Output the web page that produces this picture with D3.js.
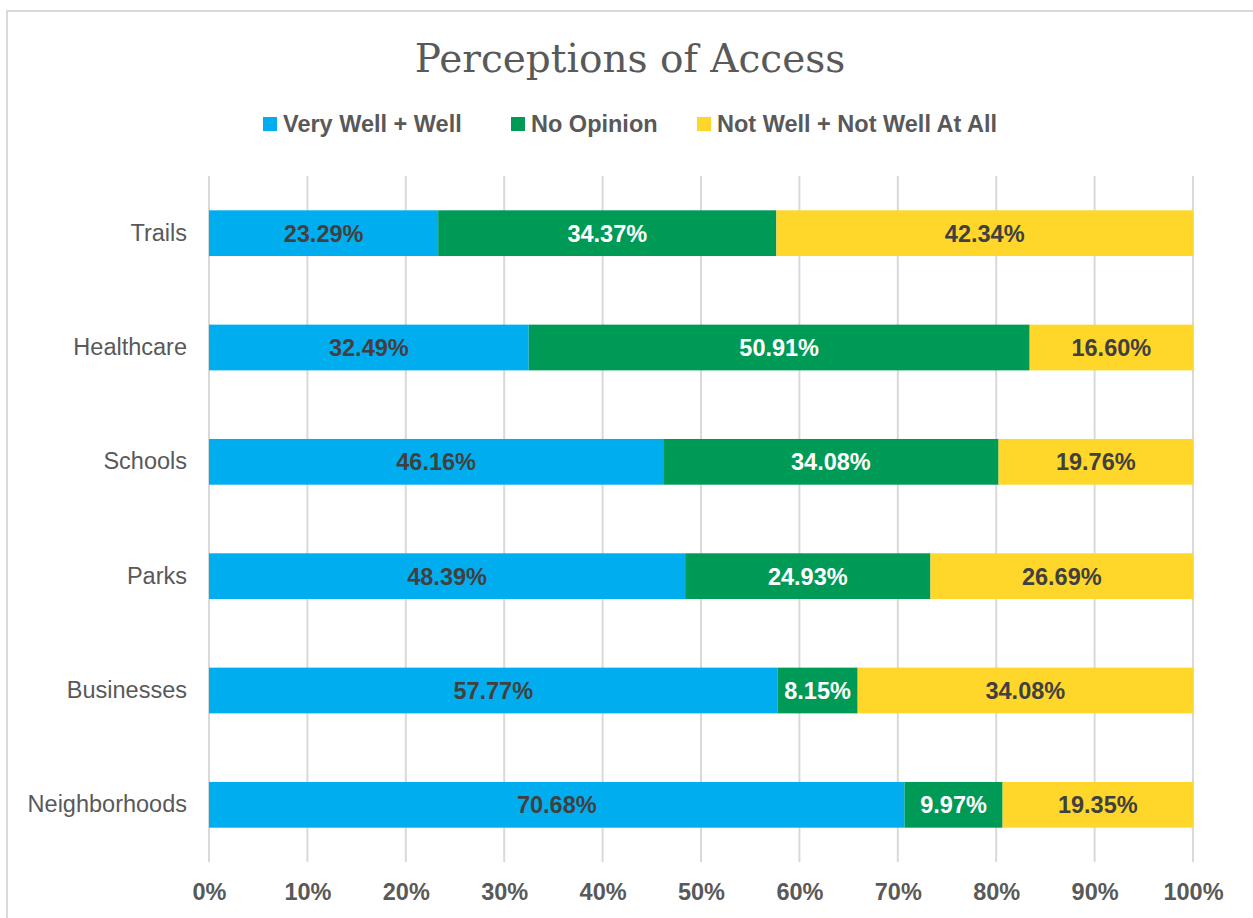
<!DOCTYPE html>
<html>
<head>
<meta charset="utf-8">
<script src="https://cdn.jsdelivr.net/npm/d3@7"></script>
<style>
  body { margin: 0; background: #fff; }
  svg { display: block; font-family: "Liberation Sans", Arial, sans-serif; }
</style>
</head>
<body>
<div id="chart"></div>
<script>
var categories = ["Trails", "Healthcare", "Schools", "Parks", "Businesses", "Neighborhoods"];
var seriesNames = ["Very Well + Well", "No Opinion", "Not Well + Not Well At All"];
var veryWell = [23.29, 32.49, 46.16, 48.39, 57.77, 70.68];
var noOpinion = [34.37, 50.91, 34.08, 24.93, 8.15, 9.97];
var notWell = [42.34, 16.60, 19.76, 26.69, 34.08, 19.35];
var xTicks = [0, 10, 20, 30, 40, 50, 60, 70, 80, 90, 100];
var colors = ["#00aeef", "#009a57", "#ffd62a"];
var labelColors = ["#404040", "#ffffff", "#404040"];

var W = 1253, H = 918;
var svg = d3.select("#chart").append("svg").attr("width", W).attr("height", H);

// frame
svg.append("rect")
  .attr("x", 7).attr("y", 11).attr("width", 1300).attr("height", 1000)
  .attr("fill", "none").attr("stroke", "#d9d9d9").attr("stroke-width", 2);

// title
svg.append("text")
  .attr("x", 630).attr("y", 72)
  .attr("text-anchor", "middle")
  .attr("fill", "#595959")
  .style("font-family", "'DejaVu Serif', serif")
  .style("font-size", "39px")
  .text("Perceptions of Access");

// legend
var legendX = [263, 511, 697];
var lg = svg.append("g").attr("class", "legend");
seriesNames.forEach(function (name, i) {
  lg.append("rect")
    .attr("x", legendX[i]).attr("y", 117).attr("width", 14).attr("height", 14)
    .attr("fill", colors[i]);
  lg.append("text")
    .attr("x", legendX[i] + 20).attr("y", 132)
    .attr("fill", "#595959")
    .style("font-size", "23.5px").style("font-weight", "bold")
    .text(name);
});

var margin = {top: 176, left: 209, right: 60, bottom: 56};
var width = 1193 - margin.left;
var height = 862 - margin.top;

var g = svg.append("g").attr("transform", "translate(" + margin.left + "," + margin.top + ")");

var x = d3.scaleLinear().domain([0, 100]).range([0, width]);
var y = d3.scaleBand().domain(categories).range([0, height]).paddingInner(0.6).paddingOuter(0.3);

// gridlines
g.append("g").selectAll("line")
  .data(xTicks)
  .enter().append("line")
  .attr("x1", function (d) { return x(d); })
  .attr("x2", function (d) { return x(d); })
  .attr("y1", 0).attr("y2", height)
  .attr("stroke", "#d9d9d9").attr("stroke-width", 2);

// stacked data
var rows = categories.map(function (c, i) {
  return {cat: c, vals: [veryWell[i], noOpinion[i], notWell[i]]};
});

rows.forEach(function (row) {
  var start = 0;
  row.vals.forEach(function (v, s) {
    var x0 = start, x1 = start + v;
    g.append("rect")
      .attr("x", x(x0)).attr("y", y(row.cat))
      .attr("width", x(x1) - x(x0)).attr("height", y.bandwidth())
      .attr("fill", colors[s]);
    g.append("text")
      .attr("x", (x(x0) + x(x1)) / 2)
      .attr("y", y(row.cat) + y.bandwidth() / 2)
      .attr("dy", "0.36em")
      .attr("text-anchor", "middle")
      .attr("fill", labelColors[s])
      .style("font-size", "23.5px").style("font-weight", "bold")
      .text(v.toFixed(2) + "%");
    start = x1;
  });
});

// category axis
var yAxis = g.append("g").call(d3.axisLeft(y).tickSize(0).tickPadding(22));
yAxis.select(".domain").remove();
yAxis.selectAll("text")
  .attr("fill", "#595959")
  .style("font-size", "23.5px")
  .style("font-family", "'Liberation Sans', Arial, sans-serif");

// value axis
var xAxis = g.append("g")
  .attr("transform", "translate(0," + height + ")")
  .call(d3.axisBottom(x).tickValues(xTicks).tickSize(0).tickPadding(21)
    .tickFormat(function (d) { return d + "%"; }));
xAxis.select(".domain").remove();
xAxis.selectAll("text")
  .attr("fill", "#595959")
  .style("font-size", "23.5px").style("font-weight", "bold")
  .style("font-family", "'Liberation Sans', Arial, sans-serif");
</script>
</body>
</html>
